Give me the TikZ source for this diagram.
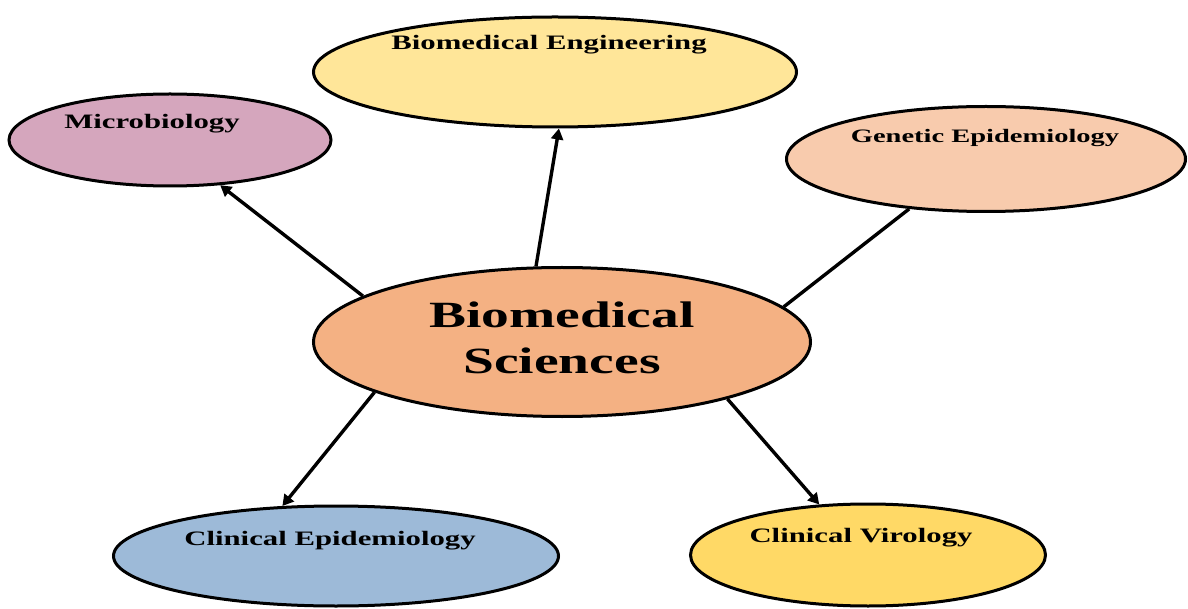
\documentclass[tikz,border=0pt]{standalone}
\usepackage{fontspec}
\setmainfont{Liberation Serif}[FakeStretch=1.5]
\usetikzlibrary{arrows.meta, shapes.geometric}
\usepackage{xcolor}
\definecolor{coreorange}{HTML}{F4B183}
\definecolor{engyellow}{HTML}{FFE699}
\definecolor{micromauve}{HTML}{D5A6BD}
\definecolor{genpeach}{HTML}{F8CBAD}
\definecolor{epiblue}{HTML}{9DBAD8}
\definecolor{virgold}{HTML}{FFD966}

\begin{document}
\begin{tikzpicture}[
    x=1pt, y=-1pt,
    bubble/.style={ellipse, draw=black, line width=3pt, inner sep=0pt},
    tag/.style={anchor=base, inner sep=0pt, font=\fontsize{20.5}{24}\selectfont\bfseries},
    link/.style={line width=3.4pt},
    arrow/.style={link, -{Triangle[length=11pt, width=12pt]}},
]
\useasboundingbox (0,0) rectangle (1188,609);

% Central field
\node[bubble, fill=coreorange, minimum width=497pt, minimum height=149pt] (sci) at (562,342) {};
\node[inner sep=0pt, align=center, font=\fontsize{37}{46}\selectfont\bfseries] (scitext) at (562,338) {Biomedical\\Sciences};

% Sub-fields
\node[bubble, fill=micromauve, minimum width=322pt, minimum height=92pt] (micro) at (170,140) {};
\node[tag] (microtext) at (152,129) {Microbiology};

\node[bubble, fill=engyellow, minimum width=483pt, minimum height=110pt] (bme) at (555,72) {};
\node[tag] (bmetext) at (549,50) {Biomedical Engineering};

\node[bubble, fill=genpeach, minimum width=399pt, minimum height=105pt] (gen) at (986,159) {};
\node[tag, font=\fontsize{19}{22}\selectfont\bfseries] (gentext) at (985,143) {Genetic Epidemiology};

\node[bubble, fill=epiblue, minimum width=445pt, minimum height=100pt] (cepi) at (336,556) {};
\node[tag] (cepitext) at (330,545) {Clinical Epidemiology};

\node[bubble, fill=virgold, minimum width=355pt, minimum height=102pt] (cvir) at (868,555) {};
\node[tag] (cvirtext) at (861,542) {Clinical Virology};

% Connectors
\draw[arrow] (sci.109) -- (bme.274);
\draw[arrow] (sci.167) -- (micro.318);
\draw[link] (sci.9) -- (gen.213);
\draw[arrow] (sci.195) -- (cepi.137);
\draw[arrow] (sci.341) -- (cvir.134);

\end{tikzpicture}
\end{document}
